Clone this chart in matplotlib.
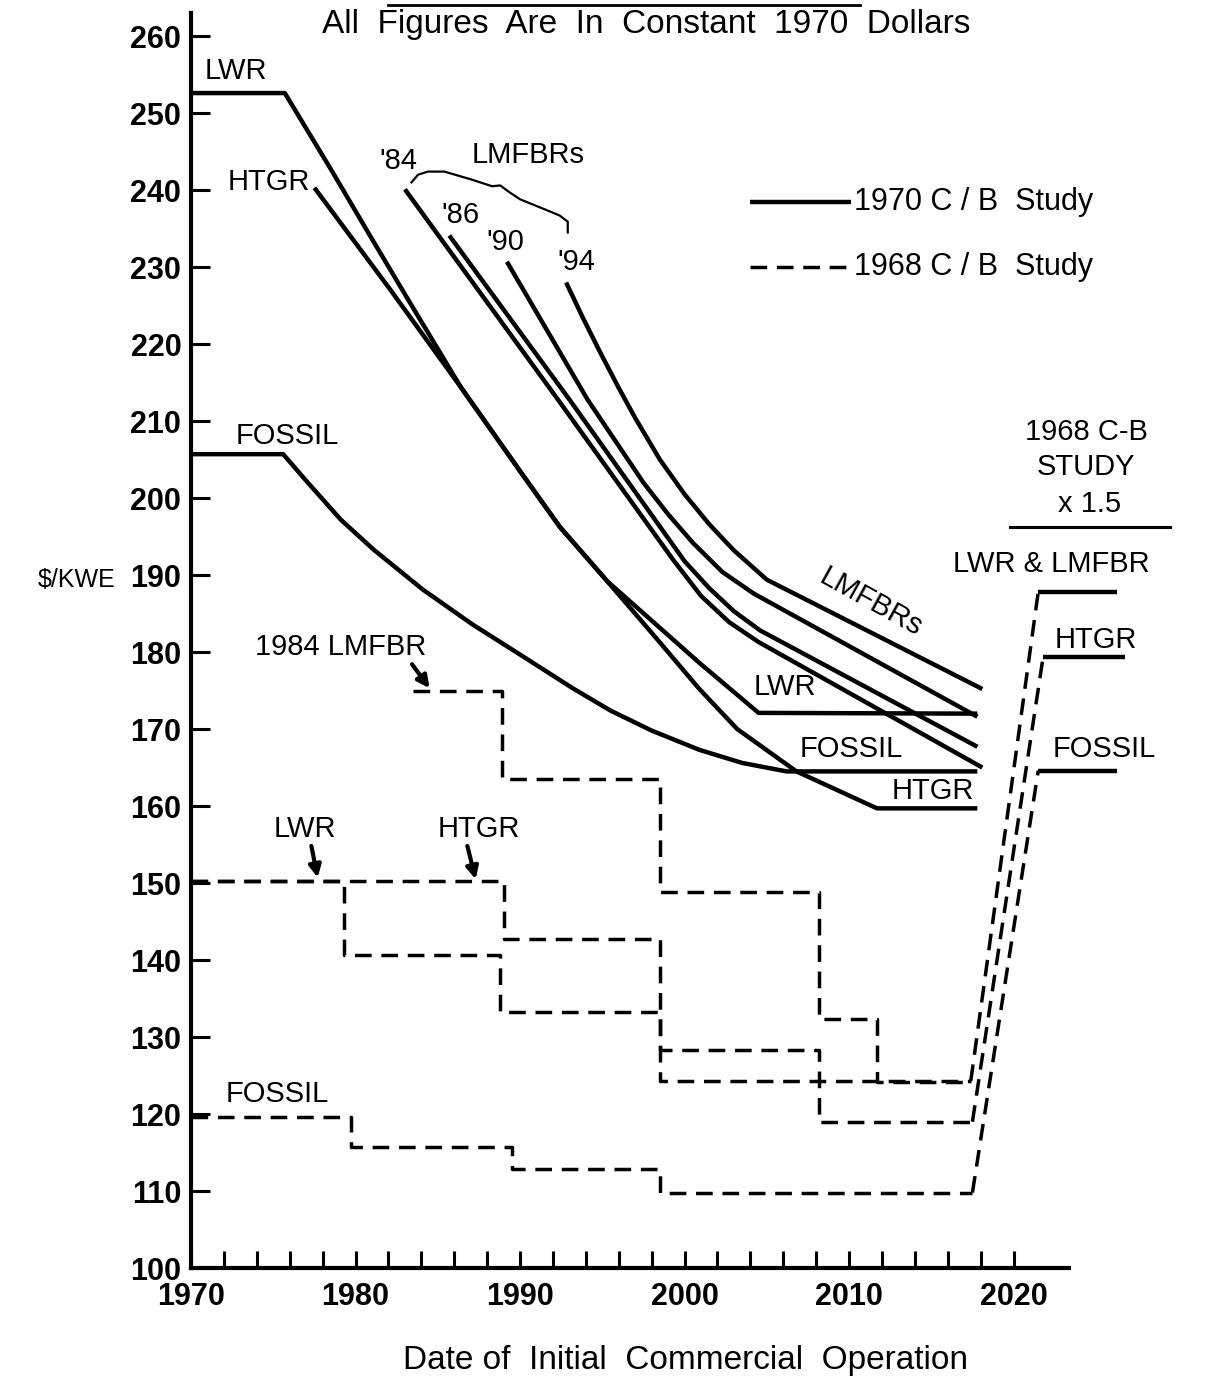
import matplotlib
matplotlib.use('Agg')
import matplotlib.pyplot as plt
from matplotlib.lines import Line2D

plt.rcParams['font.family'] = ['Liberation Sans', 'DejaVu Sans']

# ---- 1970 C/B study (solid curves), $/KWE vs year of initial operation
lwr70_year = [1970, 1975.7, 1978.5, 1980.9, 1983.3, 1986.4, 1990.0, 1992.4, 1995.3, 2000.9, 2004.5, 2017.8]
lwr70_cost = [252.6, 252.6, 242.7, 234.0, 225.4, 214.4, 203.5, 196.3, 189.2, 178.6, 172.1, 172.0]

htgr70_year = [1977.5, 1982.1, 1986.4, 1990.0, 1992.4, 1995.3, 1998.2, 2000.9, 2003.2, 2006.8, 2011.7, 2017.8]
htgr70_cost = [240.3, 227.1, 214.4, 203.5, 196.3, 189.2, 182.0, 175.2, 170.0, 164.5, 159.7, 159.7]

fossil70_year = [1970, 1975.6, 1977.1, 1979.1, 1981.1, 1984.1, 1987.1, 1990.2, 1993.2, 1995.5, 1998.0,
                 2000.9, 2003.5, 2006.2, 2017.8]
fossil70_cost = [205.7, 205.7, 202.0, 197.2, 193.3, 188.1, 183.6, 179.4, 175.3, 172.4, 169.8,
                 167.3, 165.6, 164.5, 164.5]

lmfbr84_year = [1983.0, 1992.3, 1999.3, 2001.0, 2002.7, 2004.5, 2018.1]
lmfbr84_cost = [240.1, 212.8, 192.0, 187.3, 183.9, 181.3, 165.0]

lmfbr86_year = [1985.7, 1993.0, 2000.0, 2001.5, 2003.0, 2004.6, 2017.8]
lmfbr86_cost = [234.1, 212.8, 191.8, 188.3, 185.3, 182.8, 167.7]

lmfbr90_year = [1989.2, 1994.1, 1997.5, 1999.0, 2000.5, 2002.3, 2004.2, 2017.8]
lmfbr90_cost = [230.7, 212.8, 202.0, 197.9, 194.2, 190.4, 187.6, 171.6]

lmfbr94_year = [1992.8, 1993.8, 1994.9, 1996.0, 1997.0, 1998.5, 2000.0, 2001.5, 2003.0, 2005.0, 2018.1]
lmfbr94_cost = [228.0, 223.5, 218.8, 214.3, 210.4, 205.0, 200.5, 196.6, 193.2, 189.4, 175.2]

# ---- 1968 C/B study (dashed steps)
lwr68_year = [1970, 1979.3, 1988.8, 1998.5, 2017.4]
lwr68_cost = [150.3, 140.7, 133.3, 124.3, 124.3]
htgr68_year = [1970, 1989.0, 1998.5, 2008.2, 2017.5]
htgr68_cost = [150.3, 142.7, 128.3, 119.0, 119.0]
lmfbr68_year = [1983.5, 1988.9, 1998.5, 2008.2, 2011.7, 2017.2]
lmfbr68_cost = [175.0, 163.5, 148.8, 132.3, 124.1, 124.1]
fossil68_year = [1970, 1979.7, 1989.5, 1998.5, 2017.5]
fossil68_cost = [119.6, 115.7, 112.9, 109.8, 109.8]

# ---- 1968 C-B study x 1.5
scaled_start = [2021.5, 2021.8, 2021.5]
scaled_end = [2026.3, 2026.8, 2026.3]
scaled_cost = [187.8, 179.4, 164.6]

# brace over the LMFBR labels
brace_year = [1983.4, 1983.8, 1984.4, 1985.4, 1987.0, 1988.3, 1988.8, 1989.3, 1990.0, 1991.5, 1992.4, 1992.9, 1992.9]
brace_cost = [241.0, 242.0, 242.4, 242.4, 241.4, 240.5, 240.6, 239.8, 238.8, 237.5, 236.7, 235.9, 234.5]

SOLID = dict(color='black', lw=3.2, solid_joinstyle='round', solid_capstyle='butt')
DASH = dict(color='black', lw=2.5, dashes=(4.8, 2.8))
FS = 21

fig = plt.figure(figsize=(12.13, 13.81), dpi=100)
ax = fig.add_axes([0.1575, 0.0818, 0.8137, 0.9088])
ax.set_xlim(1970, 2030)
ax.set_ylim(100, 263)

for yr, c in [(lwr70_year, lwr70_cost), (htgr70_year, htgr70_cost), (fossil70_year, fossil70_cost),
              (lmfbr84_year, lmfbr84_cost), (lmfbr86_year, lmfbr86_cost),
              (lmfbr90_year, lmfbr90_cost), (lmfbr94_year, lmfbr94_cost)]:
    ax.plot(yr, c, **SOLID)

steps = [(lwr68_year, lwr68_cost), (htgr68_year, htgr68_cost),
         (lmfbr68_year, lmfbr68_cost), (fossil68_year, fossil68_cost)]
for yr, c in steps:
    ax.plot(yr, c, drawstyle='steps-post', **DASH)

# rise to the x1.5 levels, then flat
for (yr, c), x0, x1, v in zip([steps[0], steps[1], steps[3]], scaled_start, scaled_end, scaled_cost):
    ax.plot([yr[-1], x0], [c[-1], v], **DASH)
    ax.plot([x0, x1], [v, v], clip_on=False, **SOLID)

ax.plot(brace_year, brace_cost, color='black', lw=1.6)

# axes styling
for s in ['top', 'right']:
    ax.spines[s].set_visible(False)
ax.spines['left'].set_linewidth(3)
ax.spines['bottom'].set_linewidth(3)
ax.spines['left'].set_bounds(100, 263)
ax.spines['bottom'].set_bounds(1970, 2023.4)

ax.set_yticks(range(100, 261, 10))
ax.set_yticklabels([str(v) for v in range(100, 261, 10)], fontsize=22, fontweight='bold')
xt = list(range(1970, 2021, 2))
ax.set_xticks(xt)
ax.set_xticklabels([str(v) if v % 10 == 0 else '' for v in xt], fontsize=22, fontweight='bold')
ax.tick_params(axis='y', direction='in', length=14, width=2.2, pad=7)
ax.tick_params(axis='x', direction='in', length=12, width=2.2, pad=10)

# labels for the solid curves
ax.text(1970.8, 255.4, 'LWR', fontsize=FS, va='center')
ax.text(1972.2, 241.0, 'HTGR', fontsize=FS, va='center')
ax.text(1972.7, 208.1, 'FOSSIL', fontsize=FS, va='center')
ax.text(1982.6, 243.8, "'84", fontsize=FS, va='center', ha='center')
ax.text(1990.5, 244.6, 'LMFBRs', fontsize=FS, va='center', ha='center')
ax.text(1986.4, 236.7, "'86", fontsize=FS, va='center', ha='center')
ax.text(1989.1, 233.3, "'90", fontsize=FS, va='center', ha='center')
ax.text(1993.4, 230.7, "'94", fontsize=FS, va='center', ha='center')
ax.text(2004.2, 175.4, 'LWR', fontsize=FS, va='center')
ax.text(2007.0, 167.4, 'FOSSIL', fontsize=FS, va='center')
ax.text(2012.6, 161.9, 'HTGR', fontsize=FS, va='center')
ax.text(2011.3, 186.4, 'LMFBRs', fontsize=FS, va='center', ha='center', rotation=-29)

# labels for the dashed steps, with arrows
ax.annotate('1984 LMFBR', xy=(1984.5, 175.3), xytext=(1973.9, 180.6), fontsize=FS, va='center',
            arrowprops=dict(arrowstyle='-|>', color='black', lw=3, mutation_scale=18,
                            shrinkA=0, shrinkB=0, relpos=(0.88, 0.2)))
ax.annotate('LWR', xy=(1977.7, 150.7), xytext=(1975.0, 157.0), fontsize=FS, va='center',
            arrowprops=dict(arrowstyle='-|>', color='black', lw=3, mutation_scale=18,
                            shrinkA=0, shrinkB=0, relpos=(0.6, 0.0)))
ax.annotate('HTGR', xy=(1987.3, 150.5), xytext=(1985.0, 157.0), fontsize=FS, va='center',
            arrowprops=dict(arrowstyle='-|>', color='black', lw=3, mutation_scale=18,
                            shrinkA=0, shrinkB=0, relpos=(0.35, 0.0)))
ax.text(1972.1, 122.6, 'FOSSIL', fontsize=FS, va='center')

# x1.5 block on the right
ax.text(2024.4, 208.6, '1968 C-B', fontsize=FS, ha='center', va='center')
ax.text(2024.4, 204.0, 'STUDY', fontsize=FS, ha='center', va='center')
ax.text(2024.6, 199.2, 'x 1.5', fontsize=FS, ha='center', va='center')
ax.plot([2019.8, 2029.5], [196.2, 196.2], color='black', lw=2.2, clip_on=False)
ax.text(2022.3, 191.4, 'LWR & LMFBR', fontsize=FS, ha='center', va='center')
ax.text(2022.5, 181.6, 'HTGR', fontsize=FS, va='center')
ax.text(2022.4, 167.4, 'FOSSIL', fontsize=FS, va='center')

# legend
ax.plot([2004.0, 2010.1], [238.4, 238.4], **SOLID)
ax.plot([2004.0, 2010.1], [230.0, 230.0], **DASH)
ax.text(2010.3, 238.4, '1970 C / B  Study', fontsize=22, va='center')
ax.text(2010.3, 230.0, '1968 C / B  Study', fontsize=22, va='center')

# figure texts
fig.text(0.533, 0.982, 'All  Figures  Are  In  Constant  1970  Dollars', fontsize=24, ha='center', va='center')
fig.add_artist(Line2D([0.32, 0.709], [0.9962, 0.9962], color='black', lw=2))
fig.text(0.565, 0.015, 'Date of  Initial  Commercial  Operation', fontsize=24, ha='center', va='center')
fig.text(0.031, 0.580, '$/KWE', fontsize=18, va='center')

fig.savefig('out.png', dpi=100, facecolor='white')
